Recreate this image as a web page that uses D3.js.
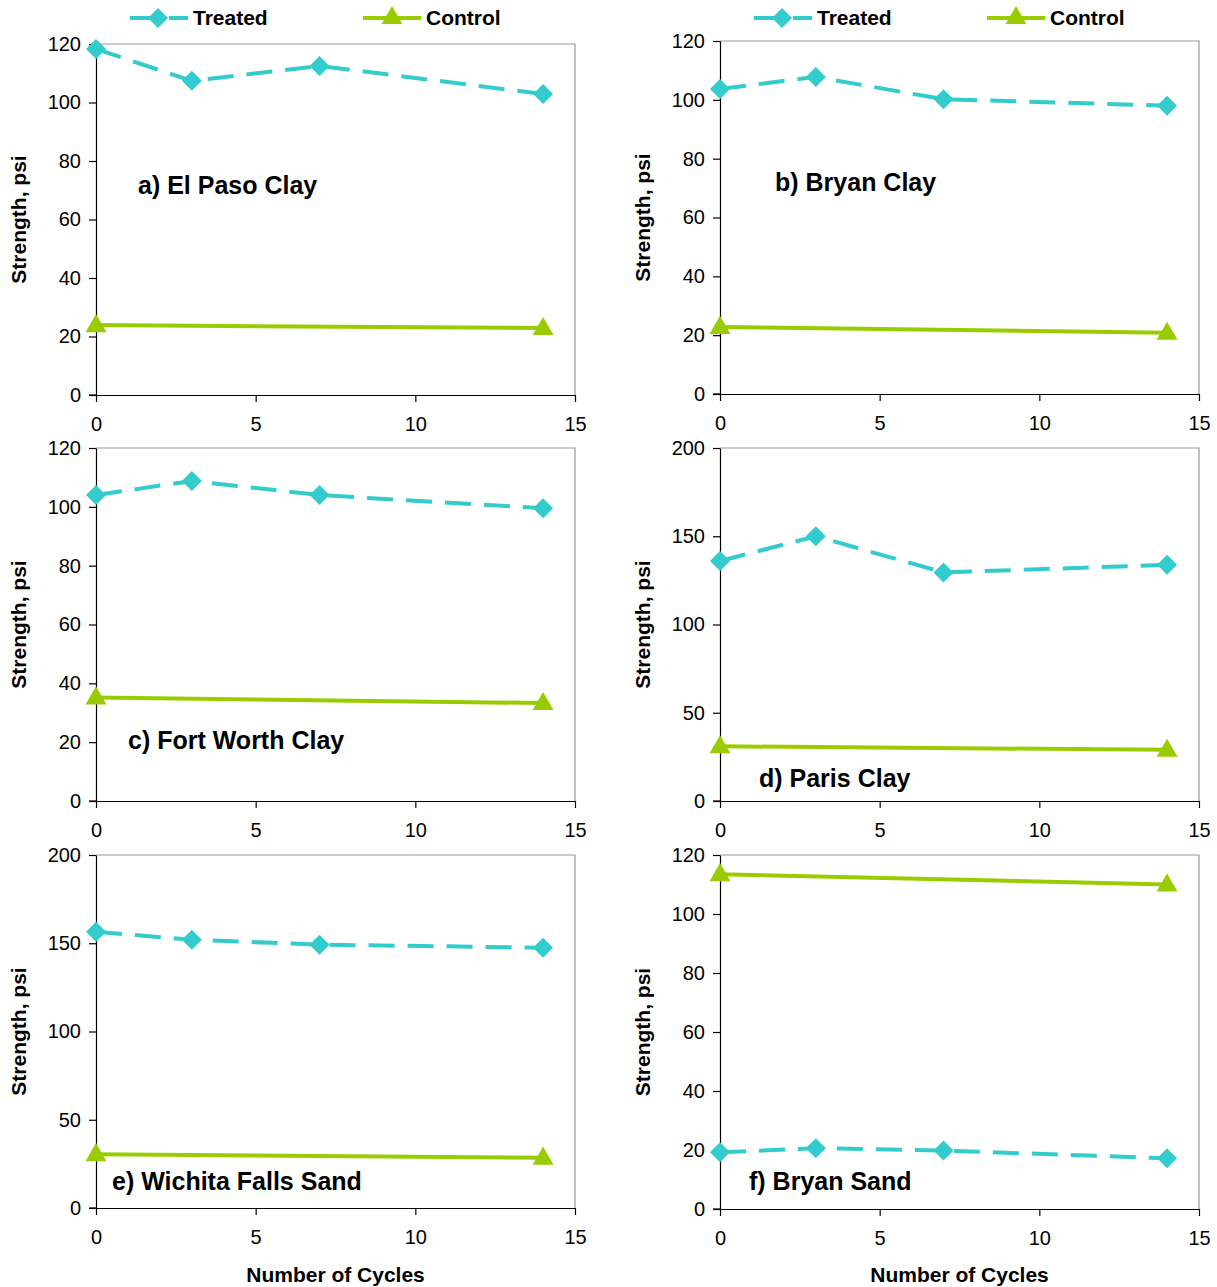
<!DOCTYPE html>
<html>
<head>
<meta charset="utf-8">
<script src="https://cdnjs.cloudflare.com/ajax/libs/d3/7.8.5/d3.min.js"></script>
<style>
  html, body { margin: 0; padding: 0; background: #fff; }
  svg { display: block; font-family: "Liberation Sans", Arial, sans-serif; }
</style>
</head>
<body>
<svg id="chart" width="1217" height="1287"></svg>
<script>
// ---- data ----
const cycles = [0, 3, 7, 14];
const controlCycles = [0, 14];
const xTicks = [0, 5, 10, 15];
const seriesNames = ["Treated", "Control"];
const panelTitles = ["a) El Paso Clay", "b) Bryan Clay", "c) Fort Worth Clay", "d) Paris Clay", "e) Wichita Falls Sand", "f) Bryan Sand"];

const treatedA = [118.3, 107.4, 112.5, 102.9];
const controlA = [23.9, 22.9];
const treatedB = [103.7, 107.8, 100.2, 98.0];
const controlB = [22.8, 20.8];
const treatedC = [104.0, 108.8, 104.0, 99.5];
const controlC = [35.2, 33.3];
const treatedD = [136.0, 150.0, 129.5, 133.8];
const controlD = [31.0, 29.0];
const treatedE = [156.5, 152.0, 149.2, 147.5];
const controlE = [30.5, 28.5];
const treatedF = [19.2, 20.6, 19.8, 17.2];
const controlF = [113.5, 110.0];

const yTicks120 = [0, 20, 40, 60, 80, 100, 120];
const yTicks200 = [0, 50, 100, 150, 200];

const yTitle = "Strength, psi";
const xTitle = "Number of Cycles";

// ---- layout ----
const TEAL = "#33CCCC", GREEN = "#99CC00";
const panels = [
  { title: panelTitles[0], treated: treatedA, control: controlA, yMax: 120, yTicks: yTicks120,
    x0: 96, x1: 575, yTop: 44, yBot: 395, lx: 138, ly: 194, legend: true },
  { title: panelTitles[1], treated: treatedB, control: controlB, yMax: 120, yTicks: yTicks120,
    x0: 720, x1: 1199, yTop: 41, yBot: 394, lx: 775, ly: 191, legend: true },
  { title: panelTitles[2], treated: treatedC, control: controlC, yMax: 120, yTicks: yTicks120,
    x0: 96, x1: 575, yTop: 448, yBot: 801, lx: 128, ly: 749 },
  { title: panelTitles[3], treated: treatedD, control: controlD, yMax: 200, yTicks: yTicks200,
    x0: 720, x1: 1199, yTop: 448, yBot: 801, lx: 759, ly: 787 },
  { title: panelTitles[4], treated: treatedE, control: controlE, yMax: 200, yTicks: yTicks200,
    x0: 96, x1: 575, yTop: 855, yBot: 1208, lx: 112, ly: 1190, xTitle: true },
  { title: panelTitles[5], treated: treatedF, control: controlF, yMax: 120, yTicks: yTicks120,
    x0: 720, x1: 1199, yTop: 855, yBot: 1209, lx: 749, ly: 1190, xTitle: true }
];

const svg = d3.select("#chart");
const diamond = d3.symbol().type(d3.symbolSquare).size(200);
const triangle = d3.symbol().type(d3.symbolTriangle).size(190);
const DASH = "26,13";

function drawDiamond(g, x, y) {
  g.append("path").attr("d", diamond()).attr("fill", TEAL)
    .attr("transform", `translate(${x},${y}) rotate(45)`);
}
function drawTriangle(g, x, y) {
  g.append("path").attr("d", triangle()).attr("fill", GREEN)
    .attr("transform", `translate(${x},${y + 1})`);
}

panels.forEach(p => {
  const x = d3.scaleLinear().domain([0, 15]).range([p.x0, p.x1]);
  const y = d3.scaleLinear().domain([0, p.yMax]).range([p.yBot, p.yTop]);
  const g = svg.append("g");

  // frame: top and right grey
  g.append("path")
    .attr("d", `M${p.x0},${p.yTop}H${p.x1}V${p.yBot}`)
    .attr("fill", "none").attr("stroke", "#9a9a9a").attr("stroke-width", 1.2);

  // axes
  const xAxis = d3.axisBottom(x).tickValues(xTicks).tickSize(7).tickPadding(15).tickSizeOuter(0);
  const gx = g.append("g").attr("transform", `translate(0,${p.yBot})`).call(xAxis);
  const yAxis = d3.axisLeft(y).tickValues(p.yTicks).tickSize(7).tickPadding(8).tickSizeOuter(0);
  const gy = g.append("g").attr("transform", `translate(${p.x0},0)`).call(yAxis);
  [gx, gy].forEach(a => {
    a.attr("font-size", null).attr("font-family", null);
    a.selectAll("path.domain").attr("stroke", "#000").attr("stroke-width", 1.2);
    a.selectAll(".tick line").attr("stroke", "#000").attr("stroke-width", 1.2);
    a.selectAll(".tick text").attr("fill", "#000").style("font-size", "20px")
      .style("font-family", "'Liberation Sans', Arial, sans-serif");
  });
  // extend x axis line a bit left of y axis
  g.append("line").attr("x1", p.x0 - 7).attr("x2", p.x0).attr("y1", p.yBot).attr("y2", p.yBot)
    .attr("stroke", "#000").attr("stroke-width", 1.2);

  // control line
  const cPts = controlCycles.map((c, i) => [x(c), y(p.control[i])]);
  g.append("path").attr("d", d3.line()(cPts)).attr("fill", "none")
    .attr("stroke", GREEN).attr("stroke-width", 4);
  cPts.forEach(pt => drawTriangle(g, pt[0], pt[1]));

  // treated line
  const tPts = cycles.map((c, i) => [x(c), y(p.treated[i])]);
  g.append("path").attr("d", d3.line()(tPts)).attr("fill", "none")
    .attr("stroke", TEAL).attr("stroke-width", 4).attr("stroke-dasharray", DASH);
  tPts.forEach(pt => drawDiamond(g, pt[0], pt[1]));

  // panel title
  g.append("text").attr("x", p.lx).attr("y", p.ly).text(p.title)
    .style("font-size", "25px").style("font-weight", "bold").attr("fill", "#000");

  // y title
  const cx = p.x0 - 70, cy = (p.yTop + p.yBot) / 2;
  g.append("text").attr("transform", `translate(${cx},${cy}) rotate(-90)`)
    .attr("text-anchor", "middle").text(yTitle)
    .style("font-size", "21px").style("font-weight", "bold").attr("fill", "#000");

  if (p.xTitle) {
    g.append("text").attr("x", (p.x0 + p.x1) / 2).attr("y", 1282).attr("text-anchor", "middle")
      .text(xTitle).style("font-size", "21px").style("font-weight", "bold").attr("fill", "#000");
  }

  if (p.legend) {
    const ly = 18;
    const tx = p.x0 + 34;
    // treated
    g.append("path").attr("d", d3.line()([[tx, ly], [tx + 58, ly]])).attr("stroke", TEAL)
      .attr("stroke-width", 4).attr("stroke-dasharray", DASH).attr("fill", "none");
    drawDiamond(g, tx + 28, ly);
    g.append("text").attr("x", tx + 63).attr("y", ly + 7).text(seriesNames[0])
      .style("font-size", "21px").style("font-weight", "bold");
    // control
    const cx2 = p.x0 + 267;
    g.append("path").attr("d", d3.line()([[cx2, ly], [cx2 + 58, ly]])).attr("stroke", GREEN)
      .attr("stroke-width", 4).attr("fill", "none");
    drawTriangle(g, cx2 + 29, ly - 1);
    g.append("text").attr("x", cx2 + 63).attr("y", ly + 7).text(seriesNames[1])
      .style("font-size", "21px").style("font-weight", "bold");
  }
});
</script>
</body>
</html>
